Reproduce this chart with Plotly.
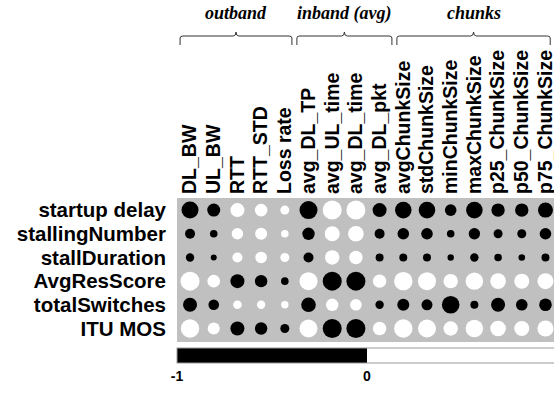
import plotly.graph_objects as go

# columns (features) and rows (QoE metrics)
features = ['DL_BW', 'UL_BW', 'RTT', 'RTT_STD', 'Loss rate',
            'avg_DL_TP', 'avg_UL_time', 'avg_DL_time', 'avg_DL_pkt',
            'avgChunkSize', 'stdChunkSize', 'minChunkSize', 'maxChunkSize',
            'p25_ChunkSize', 'p50_ChunkSize', 'p75_ChunkSize']
metrics = ['startup delay', 'stallingNumber', 'stallDuration',
           'AvgResScore', 'totalSwitches', 'ITU MOS']

# correlation, one list per metric
startup_delay = [-0.85, -0.65, 0.70, 0.63, 0.45, -0.90, 0.95, 0.95, -0.70, -0.83, -0.83, -0.58, -0.83, -0.67, -0.67, -0.75]
stalling_number = [-0.50, -0.38, 0.57, 0.60, 0.38, -0.62, 0.75, 0.78, -0.50, -0.58, -0.58, -0.38, -0.57, -0.45, -0.45, -0.58]
stall_duration = [-0.42, -0.30, 0.50, 0.58, 0.45, -0.50, 0.72, 0.67, -0.40, -0.40, -0.40, -0.32, -0.42, -0.38, -0.33, -0.40]
avg_res_score = [0.95, 0.63, -0.70, -0.62, -0.38, 0.90, -0.95, -0.95, 0.67, 0.92, 0.90, 0.72, 0.87, 0.78, 0.75, 0.80]
total_switches = [-0.70, -0.53, 0.43, 0.42, 0.37, -0.73, 0.62, 0.58, -0.42, -0.60, -0.55, -0.88, -0.40, -0.70, -0.58, -0.63]
itu_mos = [0.92, 0.60, -0.70, -0.62, -0.45, 0.90, -0.95, -0.95, 0.67, 0.92, 0.90, 0.72, 0.87, 0.78, 0.75, 0.80]

rows = [startup_delay, stalling_number, stall_duration, avg_res_score, total_switches, itu_mos]

# feature groups: label and brace extent (in column units)
groups = [('outband', -0.42, 4.3), ('inband (avg)', 4.51, 8.52), ('chunks', 8.73, 15.2)]

xs, ys, vals = [], [], []
for i, row in enumerate(rows):
    for j, v in enumerate(row):
        xs.append(j)
        ys.append(i)
        vals.append(v)

fig = go.Figure(go.Scatter(
    x=xs, y=ys, mode='markers',
    marker=dict(
        size=[abs(v) * 20 for v in vals],
        color=vals, cmin=-1, cmax=1, opacity=1,
        colorscale=[[0, 'black'], [0.5, 'black'], [0.5, 'white'], [1, 'white']],
        line=dict(width=0),
        showscale=True,
        colorbar=dict(
            orientation='h', x=0, xanchor='left', y=-0.042, yanchor='top',
            len=1.008, lenmode='fraction', thickness=15, thicknessmode='pixels',
            xpad=0, ypad=0, outlinecolor='#999999', outlinewidth=1,
            tickvals=[-1, 0, 1], ticktext=['-1', '0', '1'], ticks='',
            tickfont=dict(family='Arial', size=14, color='black', weight='bold'),
        ),
    ),
    hoverinfo='skip',
))

bold = dict(family='Arial', color='black', weight='bold')

fig.update_xaxes(
    side='top', range=[-0.55, 15.36], tickvals=list(range(len(features))),
    ticktext=features, tickangle=-90, ticks='', ticklabelstandoff=3,
    ticklabeloverflow='allow',
    tickfont=dict(size=19.5, **bold), showgrid=False, zeroline=False, showline=False,
    automargin=False,
)
fig.update_yaxes(
    range=[5.57, -0.51], tickvals=list(range(len(metrics))), ticktext=metrics,
    ticks='', ticklabelstandoff=10, tickfont=dict(size=20.5, **bold),
    showgrid=False, zeroline=False, showline=False, automargin=False,
)

# braces over the feature groups
def yp(px):
    return 1 + (198 - px) / 144

for label, x0, x1 in groups:
    xc = (x0 + x1) / 2
    d = 0.12
    path = (f'M {x0},{yp(45)} L {x0},{yp(38)} Q {x0},{yp(36)} {x0 + d},{yp(36)} '
            f'L {xc - d},{yp(36)} Q {xc},{yp(36)} {xc},{yp(32)} '
            f'Q {xc},{yp(36)} {xc + d},{yp(36)} L {x1 - d},{yp(36)} '
            f'Q {x1},{yp(36)} {x1},{yp(38)} L {x1},{yp(45)}')
    fig.add_shape(type='path', path=path, xref='x', yref='paper',
                  line=dict(color='#333333', width=1))
    fig.add_annotation(x=xc, y=yp(13), xref='x', yref='paper', text=label,
                       showarrow=False, yanchor='middle',
                       font=dict(family='Liberation Serif', size=18, color='black',
                                 weight='bold', style='italic'))

fig.update_layout(
    width=554, height=393,
    margin=dict(l=177, r=0, t=198, b=51, autoexpand=False),
    plot_bgcolor='#c0c0c0', paper_bgcolor='white',
    showlegend=False,
)

# drop the page's default body margin so the figure sits at the window corner
fig.write_html('out.html', config={'displayModeBar': False},
               post_script="document.body.style.margin='0';")
